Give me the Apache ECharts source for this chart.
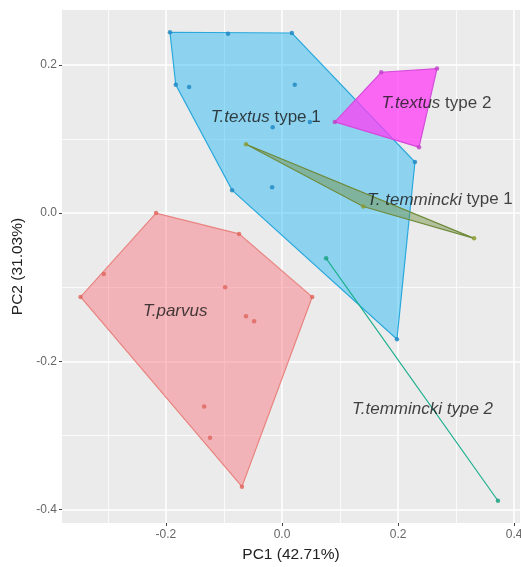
<!DOCTYPE html>
<html><head><meta charset="utf-8">
<script src="https://cdn.jsdelivr.net/npm/echarts@6/dist/echarts.min.js"></script>
<style>html,body{margin:0;padding:0;background:#fff}#c{width:521px;height:567px}</style>
</head><body><div id="c"></div>
<script>
// ---- data (PC1, PC2) ----
const parvus = [[-0.217,0.000],[-0.074,-0.028],[0.052,-0.113],[-0.069,-0.369],[-0.347,-0.113],
  [-0.307,-0.082],[-0.098,-0.100],[-0.062,-0.139],[-0.048,-0.146],[-0.134,-0.261],[-0.124,-0.303]];
const temminckiType1 = [[-0.062,0.093],[0.140,0.009],[0.331,-0.034]];
const temminckiType2 = [[0.076,-0.061],[0.372,-0.388]];
const textusType1 = [[-0.193,0.244],[-0.093,0.242],[0.017,0.243],[0.229,0.069],[0.198,-0.170],
  [-0.086,0.031],[-0.183,0.173],[-0.160,0.170],[0.022,0.173],[-0.016,0.116],[0.048,0.123],[-0.017,0.035]];
const textusType2 = [[0.091,0.123],[0.171,0.190],[0.267,0.195],[0.236,0.089]];

const xMajorTicks = [-0.2,0.0,0.2,0.4];
const xMinorTicks = [-0.3,-0.1,0.1,0.3];
const yMajorTicks = [-0.4,-0.2,0.0,0.2];
const yMinorTicks = [-0.3,-0.1,0.1];

const labelTexts = ['{i|T.textus} type 1','{i|T.textus} type 2','{i|T. temmincki} type 1','{i|T.parvus}','{i|T.temmincki type 2}'];
const labelPos = [[-0.028,0.129],[0.266,0.148],[0.272,0.018],[-0.184,-0.132],[0.242,-0.264]];

// ---- styles ----
const groups = [
  {pts: parvus, fill:'rgba(248,110,120,0.45)', stroke:'#E9837F', dot:'#E0645C'},
  {pts: textusType1, fill:'rgba(0,176,246,0.40)', stroke:'#2BA9DD', dot:'#1C86C2'},
  {pts: textusType2, fill:'rgba(255,60,245,0.75)', stroke:'#D44CDB', dot:'#C040C8'},
  {pts: temminckiType1, fill:'rgba(110,140,60,0.45)', stroke:'#6F8A3A', dot:'#8A9A2A'},
  {pts: temminckiType2, fill:'rgba(0,180,140,0.4)', stroke:'#1EB090', dot:'#15A080'}
];

function hull(points){
  const p = points.slice().sort((a,b)=>a[0]-b[0]||a[1]-b[1]);
  if (p.length < 3) return p;
  const cross=(o,a,b)=>(a[0]-o[0])*(b[1]-o[1])-(a[1]-o[1])*(b[0]-o[0]);
  const lo=[],up=[];
  for(const q of p){while(lo.length>=2&&cross(lo[lo.length-2],lo[lo.length-1],q)<=0)lo.pop();lo.push(q);}
  for(let i=p.length-1;i>=0;i--){const q=p[i];while(up.length>=2&&cross(up[up.length-2],up[up.length-1],q)<=0)up.pop();up.push(q);}
  lo.pop();up.pop();return lo.concat(up);
}

const series = [];
groups.forEach((g,gi)=>{
  const h = hull(g.pts);
  series.push({
    type:'custom', z:2+gi, silent:true,
    data:[h[0]],
    renderItem:(params,api)=>({
      type:'polygon',
      shape:{points:h.map(p=>api.coord(p))},
      style:{fill:g.fill, stroke:g.stroke, lineWidth:1.2}
    })
  });
});
groups.forEach((g,gi)=>{
  series.push({type:'scatter', z:10, symbolSize:4.5, itemStyle:{color:g.dot}, data:g.pts, silent:true});
});
series.push({
  type:'scatter', z:20, symbolSize:0, silent:true,
  data: labelPos,
  label:{show:true, position:'inside', formatter:(pr)=>labelTexts[pr.dataIndex],
    fontFamily:'Liberation Sans, Arial', fontSize:17, color:'#151515',
    rich:{i:{fontStyle:'italic', fontFamily:'Liberation Sans, Arial', fontSize:17, color:'#151515'}}}
});

const tickStyle = {show:true, length:3, lineStyle:{color:'#444', width:1}};
const chart = echarts.init(document.getElementById('c'));
chart.setOption({
  backgroundColor:'#fff',
  animation:false,
  grid:{left:62, right:1, top:10, bottom:44, show:true, backgroundColor:'#EBEBEB', borderWidth:0,
        containLabel:false, outerBoundsMode:'none'},
  xAxis:[
    {type:'value', min:-0.379, max:0.41,
     axisLine:{show:false, onZero:false},
     axisTick:Object.assign({customValues:xMajorTicks}, tickStyle),
     axisLabel:{customValues:xMajorTicks, color:'#666', fontSize:12, fontFamily:'Liberation Sans, Arial', margin:6,
       formatter:v=>v.toFixed(1)},
     splitLine:{show:true, lineStyle:{color:'#fff', width:1.6}},
     name:'PC1 (42.71%)', nameLocation:'middle', nameGap:24,
     nameTextStyle:{color:'#222', fontSize:15.5, fontFamily:'Liberation Sans, Arial'}},
    {type:'value', min:-0.379, max:0.41, position:'bottom',
     axisLine:{show:false, onZero:false}, axisLabel:{show:false},
     axisTick:{show:false, customValues:xMinorTicks},
     splitLine:{show:true, lineStyle:{color:'#fff', width:0.8}}}
  ],
  yAxis:[
    {type:'value', min:-0.418, max:0.274,
     axisLine:{show:false, onZero:false},
     axisTick:Object.assign({customValues:yMajorTicks}, tickStyle),
     axisLabel:{customValues:yMajorTicks, color:'#666', fontSize:12, fontFamily:'Liberation Sans, Arial', margin:5,
       formatter:v=>v.toFixed(1)},
     splitLine:{show:true, lineStyle:{color:'#fff', width:1.6}},
     name:'PC2 (31.03%)', nameLocation:'middle', nameGap:34,
     nameTextStyle:{color:'#222', fontSize:15.5, fontFamily:'Liberation Sans, Arial'}},
    {type:'value', min:-0.418, max:0.274, position:'left',
     axisLine:{show:false, onZero:false}, axisLabel:{show:false},
     axisTick:{show:false, customValues:yMinorTicks},
     splitLine:{show:true, lineStyle:{color:'#fff', width:0.8}}}
  ],
  series: series
});
</script></body></html>
